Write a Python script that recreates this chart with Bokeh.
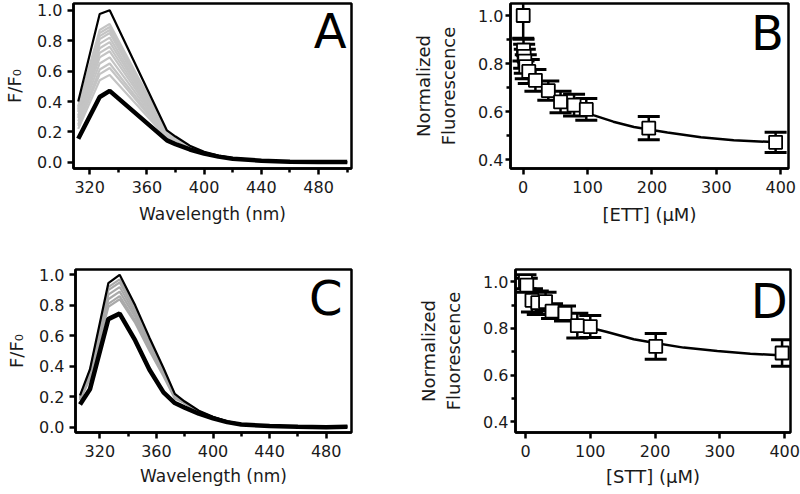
from bokeh.plotting import figure
from bokeh.layouts import column, row
from bokeh.models import Range1d, FixedTicker, Label, PrintfTickFormatter
from bokeh.embed import file_html
from bokeh.resources import INLINE

FONT = "DejaVu Sans"

# ---------------- Panel A data (ETT spectra) ----------------
wl_a = [312, 327, 334, 374, 380, 390, 400, 410, 420, 440, 460, 480, 500]
a_top = [0.40, 0.975, 1.0, 0.21, 0.17, 0.11, 0.07, 0.045, 0.028, 0.012, 0.006, 0.003, 0.002]
a_bottom = [0.155, 0.43, 0.47, 0.145, 0.12, 0.085, 0.058, 0.038, 0.024, 0.011, 0.005, 0.003, 0.002]
# gray titration spectra: values at 312, 327, 334, 374 nm
a_gray_heads = [
    [0.37, 0.87, 0.91, 0.205],
    [0.36, 0.85, 0.89, 0.20],
    [0.35, 0.83, 0.87, 0.20],
    [0.34, 0.81, 0.85, 0.195],
    [0.33, 0.78, 0.82, 0.19],
    [0.31, 0.75, 0.79, 0.19],
    [0.30, 0.72, 0.76, 0.185],
    [0.29, 0.69, 0.73, 0.18],
    [0.27, 0.65, 0.69, 0.175],
    [0.25, 0.61, 0.65, 0.17],
    [0.24, 0.58, 0.62, 0.165],
    [0.22, 0.54, 0.575, 0.16],
]
# values at 380 ... 500 nm
a_gray_tail = [0.15, 0.10, 0.065, 0.042, 0.026, 0.012, 0.006, 0.003, 0.002]

# ---------------- Panel C data (STT spectra) ----------------
wl_c = [306, 313, 326, 334, 345, 355, 365, 373, 380, 390, 400, 410, 420, 440, 460, 480, 495]
c_top = [0.21, 0.38, 0.945, 1.0, 0.80, 0.59, 0.39, 0.22, 0.17, 0.11, 0.07, 0.04, 0.022, 0.01, 0.005, 0.004, 0.005]
c_bottom = [0.15, 0.25, 0.71, 0.746, 0.57, 0.38, 0.23, 0.16, 0.13, 0.09, 0.06, 0.035, 0.02, 0.009, 0.004, 0.002, 0.004]
c_gray_heads = [
    [0.20, 0.37, 0.92, 0.97, 0.78, 0.575, 0.38, 0.215],
    [0.20, 0.36, 0.90, 0.95, 0.765, 0.565, 0.375, 0.21],
    [0.19, 0.35, 0.87, 0.92, 0.745, 0.55, 0.365, 0.205],
    [0.19, 0.34, 0.84, 0.89, 0.725, 0.535, 0.355, 0.20],
    [0.18, 0.33, 0.81, 0.86, 0.70, 0.52, 0.345, 0.195],
    [0.18, 0.32, 0.79, 0.84, 0.685, 0.505, 0.335, 0.19],
]
c_gray_tail = [0.16, 0.105, 0.067, 0.038, 0.021, 0.01, 0.005, 0.003, 0.005]

# ---------------- Panel B data (ETT titration) ----------------
b_x = [0, 0.5, 1.5, 2.5, 4, 8.7, 19, 39, 58, 79, 98, 195, 392]
b_y = [1.0, 0.856, 0.83, 0.81, 0.787, 0.767, 0.73, 0.687, 0.64, 0.627, 0.609, 0.531, 0.472]
b_err = [0.095, 0.045, 0.05, 0.05, 0.05, 0.05, 0.045, 0.04, 0.045, 0.045, 0.045, 0.048, 0.042]
b_fit_x = [95, 110, 140, 172, 200, 224, 276, 327, 380, 392]
b_fit_y = [0.598, 0.584, 0.558, 0.536, 0.523, 0.513, 0.493, 0.481, 0.474, 0.472]

# ---------------- Panel D data (STT titration) ----------------
d_x = [0, 2, 10, 19, 31, 41, 61, 80, 100, 201, 396]
d_y = [1.0, 0.985, 0.92, 0.91, 0.915, 0.874, 0.864, 0.812, 0.808, 0.723, 0.695]
d_err = [0.03, 0.03, 0.05, 0.05, 0.04, 0.032, 0.032, 0.053, 0.047, 0.055, 0.057]
d_fit_x = [100, 126, 167, 200, 244, 296, 347, 392]
d_fit_y = [0.803, 0.785, 0.754, 0.738, 0.718, 0.703, 0.692, 0.685]


def make_fig(width, height, xr, yr, bl, br, bt, bb):
    p = figure(width=width, height=height, x_range=Range1d(*xr), y_range=Range1d(*yr),
               output_backend="svg", toolbar_location=None,
               min_border_left=bl, min_border_right=br, min_border_top=bt, min_border_bottom=bb)
    p.grid.visible = False
    p.outline_line_color = "black"
    p.outline_line_width = 2.5
    p.outline_line_alpha = 1.0
    p.background_fill_color = "white"
    p.border_fill_color = "white"
    for ax in (p.xaxis[0], p.yaxis[0]):
        ax.axis_line_width = 2.5
        ax.axis_line_color = "black"
        ax.major_tick_line_width = 2.5
        ax.minor_tick_line_width = 2.5
        ax.major_tick_out = 6
        ax.major_tick_in = 0
        ax.minor_tick_out = 4
        ax.minor_tick_in = 0
        ax.major_label_text_font = FONT
        ax.major_label_text_font_size = "16px"
        ax.major_label_text_color = "#1a1a1a"
        ax.axis_label_text_font = FONT
        ax.axis_label_text_font_style = "normal"
        ax.axis_label_text_color = "#1a1a1a"
    p.yaxis[0].formatter = PrintfTickFormatter(format="%.1f")
    p.xaxis[0].major_label_standoff = 6
    p.xaxis[0].axis_label_standoff = 6
    return p


def spectra_fig(p, wl, top, bottom, heads, tail, gray, letter, lx, ly):
    for h in heads:
        p.line(wl, h + tail, line_color=gray, line_width=2.2)
    p.line(wl, top, line_color="black", line_width=2.2)
    p.line(wl, bottom, line_color="black", line_width=4.5)
    p.xaxis[0].ticker = FixedTicker(ticks=[320, 360, 400, 440, 480], minor_ticks=[340, 380, 420, 460, 500])
    p.yaxis[0].ticker = FixedTicker(ticks=[0.0, 0.2, 0.4, 0.6, 0.8, 1.0], minor_ticks=[])
    p.xaxis[0].axis_label = "Wavelength (nm)"
    p.xaxis[0].axis_label_text_font_size = "17px"
    p.yaxis[0].axis_label = "F/F\u2080"
    p.yaxis[0].axis_label_text_font_size = "18px"
    p.yaxis[0].major_label_standoff = 5
    p.yaxis[0].axis_label_standoff = 9
    p.add_layout(Label(x=lx, y=ly, text=letter, text_align="right", text_baseline="alphabetic",
                       text_font=FONT, text_font_size="48px", text_color="black"))


def titration_fig(p, x, y, err, fx, fy, xlabel, letter, lx, ly):
    p.line(fx, fy, line_color="black", line_width=2.5)
    lo = [a - e for a, e in zip(y, err)]
    hi = [a + e for a, e in zip(y, err)]
    p.segment(x0=x, y0=lo, x1=x, y1=hi, line_color="black", line_width=2.5)
    p.scatter(x, lo, marker="dash", size=22, line_color="black", line_width=3)
    p.scatter(x, hi, marker="dash", size=22, line_color="black", line_width=3)
    p.scatter(x, y, marker="square", size=13, fill_color="white", line_color="black", line_width=1.8)
    p.xaxis[0].ticker = FixedTicker(ticks=[0, 100, 200, 300, 400], minor_ticks=[])
    p.yaxis[0].ticker = FixedTicker(ticks=[0.4, 0.6, 0.8, 1.0], minor_ticks=[0.5, 0.7, 0.9])
    p.yaxis[0].major_tick_out = 5
    p.yaxis[0].minor_tick_out = 4
    p.xaxis[0].axis_label = xlabel
    p.xaxis[0].axis_label_text_font_size = "18px"
    p.yaxis[0].axis_label = "Normalized\nFluorescence"
    p.yaxis[0].axis_label_text_font_size = "18px"
    p.yaxis[0].major_label_standoff = 2
    p.yaxis[0].axis_label_standoff = 16
    p.add_layout(Label(x=lx, y=ly, text=letter, text_align="right", text_baseline="alphabetic",
                       text_font=FONT, text_font_size="48px", text_color="black"))


W_LEFT = 405
W_RIGHT = 395
H_TOP = 250
H_BOT = 242

pA = make_fig(W_LEFT, H_TOP, (308.7, 503), (-0.04, 1.044), 73, 54, 3, 82)
spectra_fig(pA, wl_a, a_top, a_bottom, a_gray_heads, a_gray_tail, "#c4c4c4", "A", 499.5, 0.865)
pA.xaxis[0].axis_label_standoff = 8

pB = make_fig(W_RIGHT, H_TOP, (-19.7, 412), (0.363, 1.05), 105, 12, 1, 82)
titration_fig(pB, b_x, b_y, b_err, b_fit_x, b_fit_y, "[ETT] (\u03bcM)", "B", 405, 0.927)
pB.xaxis[0].axis_label_standoff = 8

pC = make_fig(W_LEFT, H_BOT, (302.8, 497.9), (-0.033, 1.035), 75, 54, 19, 60)
spectra_fig(pC, wl_c, c_top, c_bottom, c_gray_heads, c_gray_tail, "#a9a9a9", "C", 491.5, 0.851)

pD = make_fig(W_RIGHT, H_BOT, (-15.4, 409), (0.355, 1.052), 110, 10, 13, 59)
titration_fig(pD, d_x, d_y, d_err, d_fit_x, d_fit_y, "[STT] (\u03bcM)", "D", 404.6, 0.917)

layout = column(row(pA, pB), row(pC, pD))
open("out.html", "w").write(file_html(layout, INLINE))
